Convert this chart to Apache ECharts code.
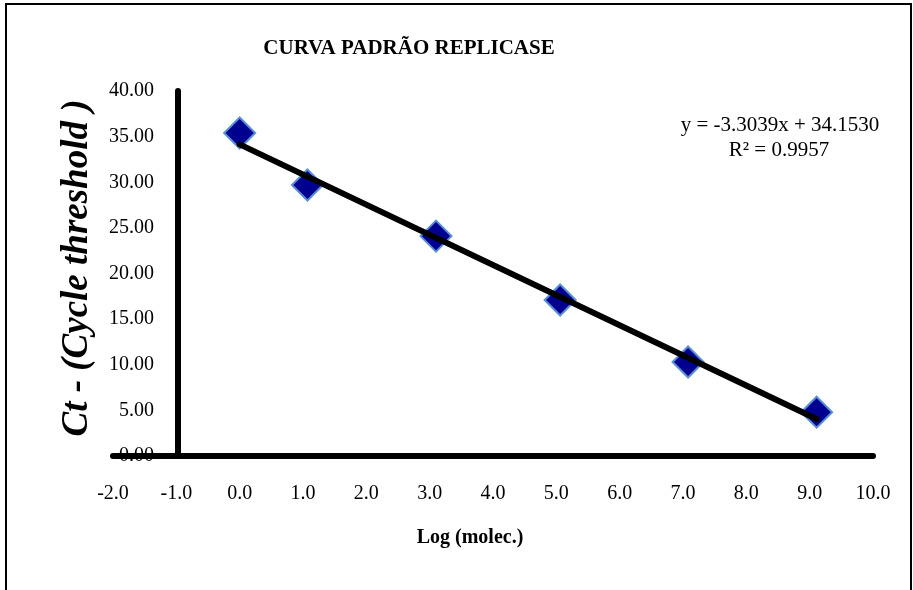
<!DOCTYPE html>
<html>
<head>
<meta charset="utf-8">
<script src="https://cdn.jsdelivr.net/npm/echarts@6/dist/echarts.min.js"></script>
<style>
  html, body { margin: 0; padding: 0; background: #fff; }
  #chart { width: 913px; height: 590px; }
</style>
</head>
<body>
<div id="chart"></div>
<script>
// dados
const logMolec = [0.0, 1.07, 3.10, 5.06, 7.08, 9.11];
const ctValues = [35.4, 29.7, 24.1, 17.1, 10.3, 4.8];
// linha de tendência (extremos)
const trendX = [0.0, 9.11];
const trendY = [34.15, 4.05];
const equationText = 'y = -3.3039x + 34.1530';
const r2Text = 'R² = 0.9957';

const serif = 'Liberation Serif, Times New Roman, serif';

const chart = echarts.init(document.getElementById('chart'));

const option = {
  backgroundColor: '#fff',
  animation: false,
  title: {
    text: 'CURVA PADRÃO REPLICASE',
    left: 404,
    textAlign: 'center',
    top: 33,
    textStyle: { fontFamily: serif, fontSize: 21, fontWeight: 'bold', color: '#000' }
  },
  grid: { left: 113, right: 40, top: 91, bottom: 134, containLabel: false },
  xAxis: {
    type: 'value',
    min: -2,
    max: 10,
    interval: 1,
    axisLine: { lineStyle: { color: '#000', width: 6 } },
    axisTick: { show: false },
    splitLine: { show: false },
    axisLabel: {
      margin: 28,
      fontFamily: serif,
      fontSize: 20,
      color: '#000',
      formatter: v => v.toFixed(1)
    }
  },
  yAxis: {
    type: 'value',
    min: 0,
    max: 40,
    interval: 5,
    offset: -65,
    axisLine: { show: true, onZero: false, lineStyle: { color: '#000', width: 6 } },
    axisTick: { show: false },
    splitLine: { show: false },
    axisLabel: {
      margin: 24,
      fontFamily: serif,
      fontSize: 20,
      color: '#000',
      formatter: v => v.toFixed(2)
    }
  },
  series: [
    {
      name: 'Ct',
      type: 'scatter',
      symbol: 'diamond',
      symbolSize: 31,
      z: 2,
      itemStyle: { color: '#000090', opacity: 1, borderColor: '#5a8fd6', borderWidth: 2 },
      data: logMolec.map((x, i) => [x, ctValues[i]])
    },
    {
      name: 'Tendência',
      type: 'line',
      z: 3,
      symbol: 'none',
      lineStyle: { color: '#000', width: 6, cap: 'round' },
      data: trendX.map((x, i) => [x, trendY[i]])
    }
  ],
  graphic: [
    {
      type: 'rect',
      shape: { x: 6, y: 4, width: 905, height: 600 },
      style: { fill: 'none', stroke: '#000', lineWidth: 2 },
      silent: true
    },
    {
      type: 'text',
      x: 780, y: 125,
      style: { text: equationText, fontFamily: serif, fontSize: 21, fill: '#000', align: 'center', verticalAlign: 'middle' }
    },
    {
      type: 'text',
      x: 779, y: 150,
      style: { text: r2Text, fontFamily: serif, fontSize: 21, fill: '#000', align: 'center', verticalAlign: 'middle' }
    },
    {
      type: 'text',
      x: 470, y: 538,
      style: { text: 'Log (molec.)', fontFamily: serif, fontSize: 20, fontWeight: 'bold', fill: '#000', align: 'center', verticalAlign: 'middle' }
    },
    {
      type: 'text',
      x: 77, y: 268,
      rotation: Math.PI / 2,
      style: { text: 'Ct - (Cycle threshold )', fontFamily: serif, fontSize: 37, fontWeight: 'bold', fontStyle: 'italic', fill: '#000', align: 'center', verticalAlign: 'middle' }
    }
  ]
};

chart.setOption(option);
</script>
</body>
</html>
